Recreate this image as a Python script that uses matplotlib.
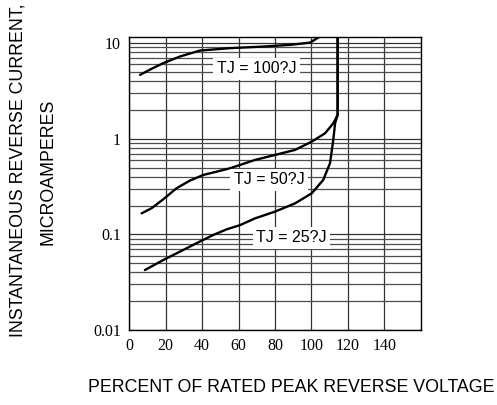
import numpy as np
import matplotlib
matplotlib.use("Agg")
import matplotlib.pyplot as plt
from matplotlib.ticker import FixedLocator, LogLocator, NullFormatter

# curve data
x_100 = [5.9, 12, 18.7, 27.8, 38.8, 55.3, 73.6, 88.2, 99.2, 104.7]
y_100 = [4.65, 5.35, 6.17, 7.23, 8.35, 8.85, 9.19, 9.58, 10.1, 11.7]

x_50 = [6.8, 12.3, 18.7, 26.0, 33.3, 40.6, 48.0, 55.3, 60.8, 69, 80, 91,
        100.2, 107.5, 112, 114.4, 114.4]
y_50 = [0.166, 0.188, 0.233, 0.304, 0.365, 0.418, 0.453, 0.491, 0.532, 0.6,
        0.677, 0.764, 0.933, 1.14, 1.45, 1.77, 12]

x_25 = [8.6, 18.7, 27.8, 37, 46.1, 53.5, 60.8, 69, 80, 91, 100.2, 106.5,
        110.2, 112, 113, 114.4, 114.4]
y_25 = [0.0424, 0.054, 0.066, 0.081, 0.0986, 0.113, 0.125, 0.147, 0.173,
        0.211, 0.269, 0.371, 0.554, 0.971, 1.45, 1.77, 12]

x_ticks = [0, 20, 40, 60, 80, 100, 120, 140]
y_ticks = [0.01, 0.1, 1, 10]
y_tick_labels = ["0.01", "0.1", "1", "10"]

labels = ["TJ = 100?J", "TJ = 50?J", "TJ = 25?J"]
label_pos = [(70, 5.4), (76.7, 0.371), (89.2, 0.092)]

fig = plt.figure(figsize=(4.97, 4.05), dpi=100)
ax = fig.add_axes([0.260, 0.185, 0.5865, 0.723])

for xs, ys in [(x_100, y_100), (x_50, y_50), (x_25, y_25)]:
    ax.plot(xs, ys, color="black", linewidth=1.7, zorder=3,
            solid_joinstyle="round", solid_capstyle="round")

ax.set_yscale("log")
ax.set_xlim(0, 160)
ax.set_ylim(0.01, 11.5)

ax.xaxis.set_major_locator(FixedLocator(x_ticks))
ax.set_xticklabels([str(t) for t in x_ticks])
ax.yaxis.set_major_locator(FixedLocator(y_ticks))
ax.set_yticklabels(y_tick_labels)
ax.yaxis.set_minor_locator(LogLocator(base=10, subs=np.arange(2, 10)))
ax.yaxis.set_minor_formatter(NullFormatter())

for lbl in ax.get_xticklabels() + ax.get_yticklabels():
    lbl.set_fontfamily("Liberation Serif")
    lbl.set_fontsize(11.5)

ax.tick_params(which="both", length=0, pad=6)
ax.grid(True, which="major", axis="both", color="0.2", linewidth=0.9, zorder=1)
ax.grid(True, which="minor", axis="y", color="0.3", linewidth=0.9, zorder=1)
ax.set_axisbelow(True)

for s in ax.spines.values():
    s.set_linewidth(1.0)

for text, (tx, ty) in zip(labels, label_pos):
    ax.text(tx, ty, text, ha="center", va="center", fontsize=11.5,
            fontfamily="Liberation Sans", zorder=4,
            bbox=dict(facecolor="white", edgecolor="none", pad=2.5))

fig.text(18 / 497, 1 - 170 / 405, "INSTANTANEOUS REVERSE CURRENT,", rotation=90,
         ha="center", va="center", fontsize=12.8, fontfamily="Liberation Sans")
fig.text(48 / 497, 1 - 172 / 405, "MICROAMPERES", rotation=90,
         ha="center", va="center", fontsize=12.8, fontfamily="Liberation Sans")
fig.text(291 / 497, 1 - 388 / 405, "PERCENT OF RATED PEAK REVERSE VOLTAGE",
         ha="center", va="center", fontsize=12.8, fontfamily="Liberation Sans")

fig.savefig("out.png", dpi=100)
